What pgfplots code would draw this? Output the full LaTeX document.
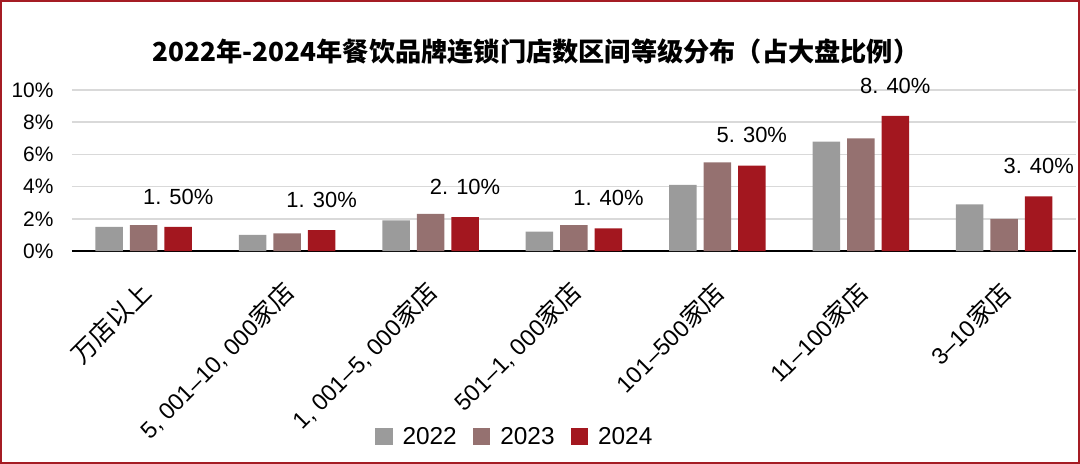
\documentclass[border=0pt]{standalone}
\usepackage{fontspec}
\setmainfont{Liberation Sans}
\newfontfamily\cjk{Noto Sans CJK SC}
\newfontfamily\cjkl{Noto Sans CJK SC}[Scale=1.07]
\usepackage{pgfplots}
\pgfplotsset{compat=1.18}

\definecolor{c22}{HTML}{9B9B9B}
\definecolor{c23}{HTML}{957170}
\definecolor{c24}{HTML}{A3171F}
\definecolor{framec}{HTML}{A51C24}
\definecolor{gridc}{HTML}{D9D9D9}

\begin{document}
\begin{tikzpicture}
    \begin{axis}[
            scale only axis,
            width=1004bp,
            height=161bp,
            xmin=-0.5, xmax=6.5,
            ymin=0, ymax=10,
            ybar=7bp,
            bar width=27.5bp,
            axis x line*=bottom,
            axis y line*=left,
            y axis line style={draw=none},
            x axis line style={black, line width=1.3bp},
            ytick={0,2,...,10},
            yticklabel={\pgfmathprintnumber{\tick}\%},
            ytick style={draw=none},
            ymajorgrids,
            grid style={gridc, line width=1.5bp},
            xtick={0,...,6},
            xtick style={draw=none},
            xticklabels={
                {\cjkl 万店以上},
                {5, 001–10, 000{\cjkl 家店}},
                {1, 001–5, 000{\cjkl 家店}},
                {501–1, 000{\cjkl 家店}},
                {101–500{\cjkl 家店}},
                {11–100{\cjkl 家店}},
                {3–10{\cjkl 家店}}
            },
            extra x ticks={-0.5,0.5,...,6.5},
            extra x tick labels={},
            extra x tick style={
                tick align=outside,
                major tick length=10bp,
                tick style={draw=black, line width=1.3bp},
            },
            ticklabel style={font=\fontsize{21}{24}\selectfont},
            /pgf/number format/assume math mode=true,
            xticklabel style={font=\fontsize{23.5}{28}\selectfont, xshift=5bp, yshift=-30bp, rotate=45, anchor=east},
            yticklabel style={xshift=-15bp},
            legend style={
                draw=none, fill=none,
                at={(axis description cs:0.441,-1.155)}, anchor=center,
                legend columns=-1,
                font=\fontsize{24.5}{27}\selectfont,
                /tikz/every odd column/.append style={column sep=8bp},
                /tikz/every even column/.append style={column sep=14bp},
            },
            legend image code/.code={\fill[#1] (0bp,-8.5bp) rectangle (17.5bp,8.5bp);},
        ]
        \addplot[fill=c22, draw=none] coordinates {
                (0,1.5) (1,1.0) (2,1.9) (3,1.2) (4,4.1) (5,6.8) (6,2.9)
            };
        \addplot[fill=c23, draw=none] coordinates {
                (0,1.6) (1,1.1) (2,2.3) (3,1.6) (4,5.5) (5,7.0) (6,2.0)
            };
        \addplot[fill=c24, draw=none,
            point meta=explicit symbolic,
            nodes near coords,
            nodes near coords style={font=\fontsize{22}{24}\selectfont, text=black, yshift=19bp},
        ] coordinates {
                (0,1.5) [1. 50\%]
                (1,1.3) [1. 30\%]
                (2,2.1) [2. 10\%]
                (3,1.4) [1. 40\%]
                (4,5.3) [5. 30\%]
                (5,8.4) [8. 40\%]
                (6,3.4) [3. 40\%]
            };
        \legend{2022,2023,2024}
    \end{axis}
    \node[font=\cjk\bfseries\fontsize{26.3}{30}\selectfont] at (464bp,199bp)
        {2022年-2024年餐饮品牌连锁门店数区间等级分布（占大盘比例）};
    \draw[framec, line width=2.5bp] (-70.75bp,-211.75bp) rectangle (1006.75bp,249.75bp);
    \pgfresetboundingbox
    \useasboundingbox (-72bp,-213bp) rectangle (1008bp,251bp);
\end{tikzpicture}
\end{document}
